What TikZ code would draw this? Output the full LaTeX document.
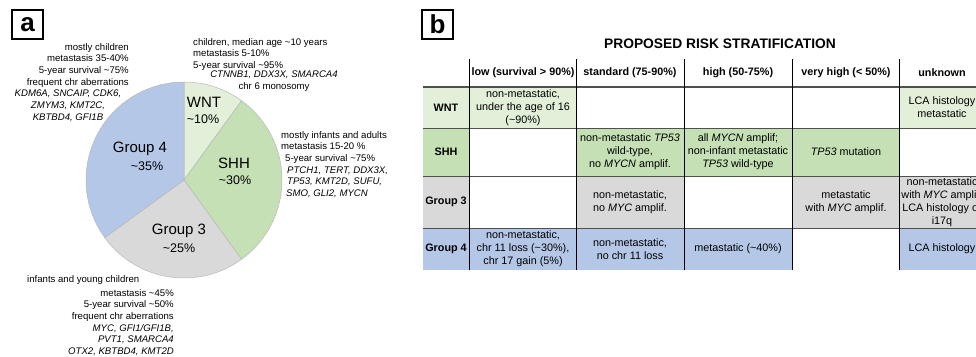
\documentclass[tikz,border=0pt]{standalone}
\usepackage{fontspec}
\setmainfont{Liberation Sans}
\usetikzlibrary{positioning, calc}
\definecolor{wntGreen}{HTML}{E2F0D9}
\definecolor{shhGreen}{HTML}{C5E0B4}
\definecolor{grpGray}{HTML}{D9D9D9}
\definecolor{grpBlue}{HTML}{B4C7E7}
\definecolor{ruleGray}{HTML}{505050}

\begin{document}
\begin{tikzpicture}[x=1pt, y=-1pt,
  panel/.style={draw, line width=1.2pt, minimum width=31pt, minimum height=29pt,
                inner sep=0pt, font=\fontsize{26}{26}\selectfont\bfseries},
  note/.style={inner sep=0pt, font=\fontsize{9.6}{11.7}\selectfont},
  gene/.style={note, font=\fontsize{9.6}{11.7}\selectfont\itshape},
  slice/.style={inner sep=0pt, font=\fontsize{15}{15}\selectfont},
  share/.style={inner sep=0pt, font=\fontsize{12.5}{12.5}\selectfont},
  cell/.style={anchor=north west, inner sep=0pt, outer sep=0pt, minimum width=108pt,
               align=center, font=\fontsize{10.8}{13}\selectfont},
  head/.style={cell, font=\fontsize{10.8}{13}\selectfont\bfseries},
  lab/.style={cell, minimum width=46pt, font=\fontsize{10.8}{13}\selectfont\bfseries},
  unk/.style={cell, minimum width=86pt},
  rhead/.style={minimum height=28pt},
  rwnt/.style={minimum height=41pt},
  rshh/.style={minimum height=48pt},
  rthree/.style={minimum height=52pt},
  rfour/.style={minimum height=42pt},
]
  \useasboundingbox (0,0) rectangle (976,356);
  \clip (0,0) rectangle (976,356);

  % panel a: subgroup pie
  \node[panel] (pa) at (27.5,24.5) {a};
  \begin{scope}[shift={(184,180)}, y=1pt, draw=gray!55, line width=0.5pt]
    \filldraw[fill=wntGreen] (0,0) -- (90:98) arc[start angle=90, end angle=54, radius=98] -- cycle;
    \filldraw[fill=shhGreen] (0,0) -- (54:98) arc[start angle=54, end angle=-54, radius=98] -- cycle;
    \filldraw[fill=grpGray] (0,0) -- (-54:98) arc[start angle=-54, end angle=-144, radius=98] -- cycle;
    \filldraw[fill=grpBlue] (0,0) -- (-144:98) arc[start angle=-144, end angle=-270, radius=98] -- cycle;
  \end{scope}

  \node[slice] (wntlab) at (204,102) {WNT};
  \node[share] (wntpct) at (203,119) {\textasciitilde10\%};
  \node[slice] (shhlab) at (234,163) {SHH};
  \node[share] (shhpct) at (235,180) {\textasciitilde30\%};
  \node[slice] (g4lab) at (140,149) {Group 4};
  \node[share] (g4pct) at (147,166) {\textasciitilde35\%};
  \node[slice] (g3lab) at (179,231) {Group 3};
  \node[share] (g3pct) at (179,248) {\textasciitilde25\%};

  \node[note, align=right, anchor=north east] (g4note) at (129,43) {mostly children\\
    metastasis 35-40\%\\5-year survival \textasciitilde75\%\\frequent chr aberrations};
  \node[gene, align=center, anchor=north] (g4genes) at (68,90) {KDM6A, SNCAIP, CDK6,\\
    ZMYM3, KMT2C,\\KBTBD4, GFI1B};

  \node[note, align=left, anchor=north west] (wntnote) at (193,38) {children, median age \textasciitilde10 years\\
    metastasis 5-10\%\\5-year survival \textasciitilde95\%};
  \node[note, align=center, anchor=north] (wntgenes) at (274,71) {\textit{CTNNB1, DDX3X, SMARCA4}\\
    chr 6 monosomy};

  \node[note, align=left, anchor=north west] (shhnote) at (281,131) {mostly infants and adults\\
    metastasis 15-20 \%\\\hspace*{4pt}5-year survival \textasciitilde75\%\\
    \hspace*{6pt}\textit{PTCH1, TERT, DDX3X,}\\\hspace*{6pt}\textit{TP53, KMT2D, SUFU,}\\
    \hspace*{5pt}\textit{SMO, GLI2, MYCN}};

  \node[note, anchor=north west] (g3head) at (27,275) {infants and young children};
  \node[note, align=right, anchor=north east] (g3note) at (174,289) {metastasis \textasciitilde45\%\\
    5-year survival \textasciitilde50\%\\frequent chr aberrations\\\textit{MYC, GFI1/GFI1B,}\\
    \textit{PVT1, SMARCA4}\hspace*{8pt}\\\textit{OTX2, KBTBD4, KMT2D}};

  % panel b: risk table
  \node[panel] (pb) at (437.5,24.5) {b};
  \node[font=\fontsize{13.8}{14}\selectfont\bfseries] (title) at (720,44) {PROPOSED RISK STRATIFICATION};

  \node[lab, rhead] (hlab) at (423,59) {};
  \node[head, rhead] (hlow) at (469,59) {low (survival > 90\%)};
  \node[head, rhead] (hstd) at (576,59) {standard (75-90\%)};
  \node[head, rhead] (hhigh) at (684,59) {high (50-75\%)};
  \node[head, rhead] (hvhigh) at (792,59) {very high (< 50\%)};
  \node[head, rhead, minimum width=86pt] (hunk) at (899,59) {unknown};

  \node[lab, rwnt, fill=wntGreen] (wlab) at (423,87) {WNT};
  \node[cell, rwnt, fill=wntGreen] (wlow) at (469,87) {non-metastatic,\\under the age of 16\\(\textasciitilde90\%)};
  \node[cell, rwnt] (wstd) at (576,87) {};
  \node[cell, rwnt] (whigh) at (684,87) {};
  \node[cell, rwnt] (wvhigh) at (792,87) {};
  \node[unk, rwnt, fill=wntGreen] (wunk) at (899,87) {LCA histology\\metastatic};

  \node[lab, rshh, fill=shhGreen] (slab) at (423,128) {SHH};
  \node[cell, rshh] (slow) at (469,128) {};
  \node[cell, rshh, fill=shhGreen] (sstd) at (576,128) {non-metastatic \textit{TP53}\\wild-type,\\no \textit{MYCN} amplif.};
  \node[cell, rshh, fill=shhGreen] (shigh) at (684,128) {all \textit{MYCN} amplif;\\non-infant metastatic\\\textit{TP53} wild-type};
  \node[cell, rshh, fill=shhGreen] (svhigh) at (792,128) {\textit{TP53} mutation};
  \node[unk, rshh] (sunk) at (899,128) {};

  \node[lab, rthree, fill=grpGray] (tlab) at (423,176) {Group 3};
  \node[cell, rthree] (tlow) at (469,176) {};
  \node[cell, rthree, fill=grpGray] (tstd) at (576,176) {non-metastatic,\\no \textit{MYC} amplif.};
  \node[cell, rthree] (thigh) at (684,176) {};
  \node[cell, rthree, fill=grpGray] (tvhigh) at (792,176) {metastatic\\with \textit{MYC} amplif.};
  \node[unk, rthree, fill=grpGray] (tunk) at (899,176) {non-metastatic\\with \textit{MYC} amplif.\\LCA histology or\\i17q};

  \node[lab, rfour, fill=grpBlue] (flab) at (423,228) {Group 4};
  \node[cell, rfour, fill=grpBlue] (flow) at (469,228) {non-metastatic,\\chr 11 loss (\textasciitilde30\%),\\chr 17 gain (5\%)};
  \node[cell, rfour, fill=grpBlue] (fstd) at (576,228) {non-metastatic,\\no chr 11 loss};
  \node[cell, rfour, fill=grpBlue] (fhigh) at (684,228) {metastatic (\textasciitilde40\%)};
  \node[cell, rfour] (fvhigh) at (792,228) {};
  \node[unk, rfour, fill=grpBlue] (funk) at (899,228) {LCA histology};

  % grid
  \foreach \r/\w in {w/1.4pt, s/1pt, t/1pt, f/1pt}
    \draw[ruleGray, line width=\w] (\r lab.north west) -- (\r unk.north east);
  \foreach \c in {low, std, high, vhigh, unk}
    \draw[line width=0.9pt] (h\c.north west) -- (f\c.south west);
\end{tikzpicture}
\end{document}
